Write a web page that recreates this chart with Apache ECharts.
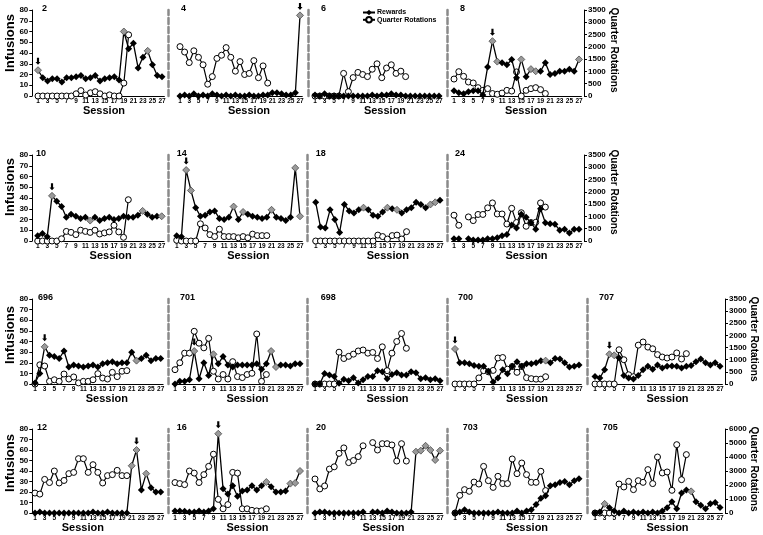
<!DOCTYPE html>
<html><head><meta charset="utf-8">
<script src="https://cdn.jsdelivr.net/npm/echarts/dist/echarts.min.js"></script>
<style>html,body{margin:0;padding:0;background:#fff}#c{width:763px;height:535px}</style>
</head><body><div id="c"></div>
<script>
// ---------- tick labels ----------
const sessions = ['1','2','3','4','5','6','7','8','9','10','11','12','13','14','15','16','17','18','19','20','21','22','23','24','25','26','27'];

// ---------- data (Rewards = infusions, left axis; Quarter Rotations = right axis) ----------
const rewards2 = [24,17,14,16,16,13,17,17,18,19,16,17,19,14,16,17,18,15,60,44,49,26,36,42,29,19,18];
const rotations2 = [0,0,0,0,0,0,0,0,90,220,40,130,175,90,0,45,0,0,525,2490];
const gray2 = [1,19,24]; const arrows2 = [1];

const rewards4 = [0,1,0,2,0,1,0,2,1,0,1,0,1,0,0,1,0,0,1,1,3,3,2,1,1,3,75];
const rotations4 = [2010,1790,1360,1840,1575,1270,480,790,1530,1660,1970,1575,1010,1400,875,920,1440,745,1225,525];
const gray4 = [27]; const arrows4 = [27];

const rewards6 = [1,0,2,0,0,0,0,0,0,0,0,0,1,0,1,1,2,1,1,0,0,0,0,0,0,0,0];
const rotations6 = [0,0,0,0,0,0,920,175,750,960,875,790,1090,1310,745,1140,1270,920,1010,790];
const gray6 = []; const arrows6 = [];

const rewards8 = [5,3,2,4,5,5,1,27,51,32,31,29,34,17,34,18,25,23,23,31,20,21,23,23,25,23,34];
const rotations8 = [690,990,800,570,530,340,230,300,100,70,120,230,200,980,0,230,300,340,260,100];
const gray8 = [9,10,15,17,18,27]; const arrows8 = [9];

const rewards10 = [5,7,4,42,37,32,22,25,23,21,22,19,22,19,21,22,20,21,23,22,22,24,28,25,22,23,23];
const rotations10 = [0,0,0,0,0,90,390,350,260,440,390,350,440,285,330,370,640,370,150,1680];
const gray10 = [4,12,23,27]; const arrows10 = [4];

const rewards14 = [5,4,66,47,31,23,24,27,28,21,20,22,32,20,27,25,23,22,21,22,29,22,21,19,22,68,23];
const rotations14 = [30,0,0,0,0,700,530,260,180,480,180,180,180,130,180,130,280,220,220,220];
const gray14 = [3,4,13,15,21,26,27]; const arrows14 = [3];

const rewards18 = [36,13,12,29,20,8,34,28,26,29,31,29,24,23,27,31,30,29,26,29,31,36,34,31,34,36,38];
const rotations18 = [0,0,0,0,0,0,0,0,0,0,0,0,0,240,180,80,220,240,80,380];
const gray18 = [11,16,18,25,26]; const arrows18 = [];

const rewards24 = [2,2,null,2,1,1,1,2,2,3,5,6,15,12,25,22,17,11,30,17,16,15.5,10,11,7.5,11,11];
const rotations24 = [1050,640,null,980,830,1080,1080,1350,1550,1100,1100,690,1330,750,1150,600,750,760,1550,1380];
const gray24 = []; const arrows24 = [];

const rewards696 = [1,10,35,27,26,24,31,16,18,17,16,17,18,16,19,20,21,19,20,20,30,22,24,27,22,24,24];
const rotations696 = [0,790,740,110,175,110,410,205,290,45,110,110,175,425,245,205,480,305,525,550];
const gray696 = [3,22]; const arrows696 = [3];

const rewards701 = [0,2.5,2.5,4,31,5,20,8,28,19,26,18,16,18,18,18,18,19,14,19,31,16,18,18,17,19,19];
const rotations701 = [590,875,1270,1270,2170,1680,1490,1880,525,205,390,205,920,305,265,390,440,2060,110,390];
const gray701 = [5,9,21,22]; const arrows701 = [5];

const rewards698 = [0,0,10,8.5,7,0.6,4.4,3,6,1,4,7,7,12.5,11.6,5,9,10.7,8.5,8.5,11.6,10.7,5,6,4,5,3];
const rotations698 = [0,0,0,0,0,1310,1050,1140,1230,1360,1400,1270,1300,1050,1530,550,1270,1750,2080,1470];
const gray698 = []; const arrows698 = [];

const rewards700 = [33,20,20,19,17.5,16.6,16.6,12,2,5.6,13.5,9.7,16.6,21,16.6,19,19,20,22,22,20,24,23.5,20,16,16.6,18];
const rotations700 = [0,0,0,0,0,250,550,500,560,1070,1090,610,720,480,720,260,220,200,200,300];
const gray700 = [1,20]; const arrows700 = [1];

const rewards707 = [7,5.6,13.5,28,27,24.5,8,5.6,4.7,8,13.5,16.6,14,18,15,16.6,17,16.6,15,16.6,17.5,21,23.5,20,18,20,16.6];
const rotations707 = [0,0,0,0,0,1410,1000,380,300,1600,1730,1520,1450,1210,1110,1070,1110,1280,1030,1250];
const gray707 = [4,5]; const arrows707 = [4];

const rewards12 = [0,1,0,0,0,0,0,0,0,0,0,0,1,0,0,1,0,0,0,0,45,60,22,37.5,24,20,20];
const rotations12 = [1425,1350,2400,2175,3000,2145,2325,2810,2900,3880,3880,2900,3450,2900,2145,2670,2740,3045,2670,2670];
const gray12 = [21,22,24]; const arrows12 = [22];

const rewards16 = [2,2,1.6,1,1,2,1,2,4,75.5,23,18,26,16,21,22,26,22,26,29.5,25,20,20,21,28,28.6,40];
const rotations16 = [2175,2100,2025,3000,2850,2175,2740,3330,4200,975,300,600,2900,2850,300,300,190,150,150,300];
const gray16 = [10,20,25,26,27]; const arrows16 = [10];

const rewards20 = [0,1,1,0,0,0,0,0,0,0,1,null,1,1,0,2,1,0,0,0,1,58.4,59.4,64,60,50.5,59.4];
const rotations20 = [2430,1720,1930,3140,3300,4260,4650,3600,3750,4030,4800,null,5030,4500,4950,4950,4860,3710,4950,3710];
const gray20 = [22,23,24,25,26,27]; const arrows20 = [];

const rewards703 = [0,1,3,1,0,0,0,0,0,1,0,0,0,2,0,2,3,8,14,16.5,26,27,29,30,27,30.8,32.7];
const rotations703 = [0,1260,1670,1550,2210,2070,3330,2310,1830,2620,2100,2100,3860,2810,3570,2740,2190,2190,2980,1600];
const gray703 = []; const arrows703 = [];

const rewards705 = [0,1,8.7,5,2,0,2,0,1,0,1,0,1,0,2,5,10.7,4,19,22,20.6,10.7,7.3,4,8.7,10,5.3];
const rotations705 = [0,0,0,0,0,2070,1860,2260,1670,2310,2190,3100,2100,4000,2860,2930,1620,4880,2380,4170];
const gray705 = [3,21]; const arrows705 = [];

// ---------- layout ----------
const FONT = '"Liberation Sans", Arial, sans-serif';
const rows = [
  {top:10,  bottom:96,  rotMax:3500, rotInt:500,  sepY:[168,308,447],        sessGap:8.5, infY:43,  qrY:50},
  {top:155, bottom:241, rotMax:3500, rotInt:500,  sepY:[168.3,307.3,447.3],  sessGap:6,   infY:187, qrY:192},
  {top:299, bottom:384, rotMax:3500, rotInt:500,  sepY:[168,307,447,587],    sessGap:6.5, infY:335, qrY:339},
  {top:429, bottom:513, rotMax:6000, rotInt:1000, sepY:[168.3,307,447.3,587],sessGap:8.5, infY:463, qrY:469}
];
const panels = [
  {name:'2',  row:0, x1:38,    x27:162,   ldx:4,   sdx:4,   r:rewards2,   q:rotations2,   g:gray2,   a:arrows2},
  {name:'4',  row:0, x1:180,   x27:300,   ldx:1,   sdx:9,   r:rewards4,   q:rotations4,   g:gray4,   a:arrows4},
  {name:'6',  row:0, x1:315,   x27:439,   ldx:6,   sdx:8,   r:rewards6,   q:rotations6,   g:gray6,   a:arrows6},
  {name:'8',  row:0, x1:454,   x27:579,   ldx:6,   sdx:9.5, r:rewards8,   q:rotations8,   g:gray8,   a:arrows8},
  {name:'10', row:1, x1:37.7,  x27:161.7, ldx:-1.7,sdx:11,  r:rewards10,  q:rotations10,  g:gray10,  a:arrows10},
  {name:'14', row:1, x1:176.7, x27:300,   ldx:0,   sdx:10,  r:rewards14,  q:rotations14,  g:gray14,  a:arrows14},
  {name:'18', row:1, x1:315.7, x27:440,   ldx:0,   sdx:10,  r:rewards18,  q:rotations18,  g:gray18,  a:arrows18},
  {name:'24', row:1, x1:454,   x27:579,   ldx:1,   sdx:10,  r:rewards24,  q:rotations24,  g:gray24,  a:arrows24},
  {name:'696',row:2, x1:35,    x27:160.7, ldx:3,   sdx:9,   r:rewards696, q:rotations696, g:gray696, a:arrows696},
  {name:'701',row:2, x1:175,   x27:300,   ldx:5,   sdx:10,  r:rewards701, q:rotations701, g:gray701, a:arrows701},
  {name:'698',row:2, x1:315,   x27:440,   ldx:5.7, sdx:10,  r:rewards698, q:rotations698, g:gray698, a:arrows698},
  {name:'700',row:2, x1:455,   x27:579,   ldx:3,   sdx:10,  r:rewards700, q:rotations700, g:gray700, a:arrows700},
  {name:'707',row:2, x1:595,   x27:720,   ldx:4,   sdx:10,  r:rewards707, q:rotations707, g:gray707, a:arrows707},
  {name:'12', row:3, x1:35,    x27:160.7, ldx:2,   sdx:-15, r:rewards12,  q:rotations12,  g:gray12,  a:arrows12},
  {name:'16', row:3, x1:175,   x27:300,   ldx:1.7, sdx:10,  r:rewards16,  q:rotations16,  g:gray16,  a:arrows16},
  {name:'20', row:3, x1:315,   x27:440,   ldx:1,   sdx:6,   r:rewards20,  q:rotations20,  g:gray20,  a:arrows20},
  {name:'703',row:3, x1:455,   x27:579,   ldx:7.7, sdx:10,  r:rewards703, q:rotations703, g:gray703, a:arrows703},
  {name:'705',row:3, x1:595,   x27:720,   ldx:7.7, sdx:10,  r:rewards705, q:rotations705, g:gray705, a:arrows705}
];

const ARROW = 'path://M2,0 L5,0 L5,6 L7,6 L3.5,10 L0,6 L2,6 Z';
const grids = [], xAxes = [], yAxes = [], series = [], titles = [];

panels.forEach((p, i) => {
  const row = rows[p.row];
  const rowPanels = panels.filter(o => o.row === p.row);
  const k = rowPanels.indexOf(p);
  const isFirst = k === 0, isLast = k === rowPanels.length - 1;
  const W = (p.x27 - p.x1) * 54 / 52;
  const left = p.x1 - W / 54;
  grids.push({left: left, top: row.top, width: W, height: row.bottom - row.top});
  titles.push({text: p.name, left: p.x1 + p.ldx, top: row.top - 6, padding: 0,
    textStyle: {fontSize: 9, fontWeight: 'bold', color: '#000', fontFamily: FONT}});
  xAxes.push({gridIndex: i, type: 'category', data: sessions, boundaryGap: true,
    axisLine: {lineStyle: {color: '#000', width: 1}}, axisTick: {show: false},
    axisLabel: {interval: 1, fontSize: 6.5, fontWeight: 'bold', color: '#000', margin: 2, fontFamily: FONT},
    name: 'Session', nameLocation: 'middle', nameGap: row.sessGap,
    nameTextStyle: {fontSize: 11, fontWeight: 'bold', color: '#000', fontFamily: FONT,
      padding: p.sdx >= 0 ? [0, 0, 0, 2 * p.sdx] : [0, -2 * p.sdx, 0, 0]}});
  // left (infusions) axis
  if (isFirst) {
    yAxes.push({gridIndex: i, type: 'value', min: 0, max: 80, interval: 10, position: 'left',
      offset: left - 32.3,
      axisLine: {show: true, lineStyle: {color: '#000', width: 1}},
      axisTick: {show: true, length: 3, lineStyle: {color: '#000'}},
      axisLabel: {fontSize: 8, fontWeight: 'bold', color: '#000', margin: 4, fontFamily: FONT},
      splitLine: {show: false}});
  } else {
    yAxes.push({gridIndex: i, type: 'value', min: 0, max: 80, interval: 10, position: 'left',
      offset: left - row.sepY[k - 1],
      axisLine: {show: true, lineStyle: {color: '#8a8a8a', width: 2.5, type: [6, 3]}},
      axisTick: {show: false}, axisLabel: {show: false}, splitLine: {show: false}});
  }
  // right (quarter rotations) axis
  const rightX = p.row < 2 ? 584 : 725;
  yAxes.push({gridIndex: i, type: 'value', min: 0, max: row.rotMax, interval: row.rotInt, position: 'right',
    show: isLast, offset: rightX - (left + W),
    axisLine: {show: true, lineStyle: {color: '#000', width: 1}},
    axisTick: {show: true, length: 3, lineStyle: {color: '#000'}},
    axisLabel: {fontSize: 8, fontWeight: 'bold', color: '#000', margin: 4, fontFamily: FONT,
      formatter: v => String(v)},
    splitLine: {show: false}});

  series.push({name: 'Rewards', type: 'line', xAxisIndex: i, yAxisIndex: 2 * i,
    data: p.r.map((v, j) => p.g.indexOf(j + 1) >= 0 && v !== null
      ? {value: v, itemStyle: {color: '#9a9a9a', borderColor: '#4a4a4a', borderWidth: 0.8}} : v),
    symbol: 'diamond', symbolSize: 7, showAllSymbol: true, connectNulls: false,
    itemStyle: {color: '#000'}, lineStyle: {color: '#000', width: 1.3}, z: 3,
    markPoint: {silent: true, symbol: ARROW, symbolSize: [5, 7], symbolOffset: [0, -9],
      itemStyle: {color: '#000'}, label: {show: false},
      data: p.a.map(s => ({coord: [sessions[s - 1], p.r[s - 1]]}))}});
  series.push({name: 'Quarter Rotations', type: 'line', xAxisIndex: i, yAxisIndex: 2 * i + 1,
    data: p.q, symbol: 'circle', symbolSize: 6, showAllSymbol: true, connectNulls: false,
    itemStyle: {color: '#fff', borderColor: '#000', borderWidth: 1},
    lineStyle: {color: '#000', width: 1.2}, z: 2});
});

const graphics = [];
rows.forEach((row, ri) => {
  graphics.push({type: 'text', x: 10, y: row.infY, rotation: Math.PI / 2,
    style: {text: 'Infusions', font: 'bold 13px ' + FONT, fill: '#000', textAlign: 'center', textVerticalAlign: 'middle'}});
  graphics.push({type: 'text', x: ri < 2 ? 614 : 754, y: row.qrY, rotation: -Math.PI / 2,
    style: {text: 'Quarter Rotations', font: 'bold 10px ' + FONT, fill: '#000', textAlign: 'center', textVerticalAlign: 'middle'}});
});

const chart = echarts.init(document.getElementById('c'), null, {renderer: 'canvas'});
chart.setOption({
  animation: false,
  backgroundColor: '#fff',
  title: titles,
  legend: {data: ['Rewards', 'Quarter Rotations'], orient: 'vertical', left: 362, top: 9,
    itemWidth: 12, itemHeight: 7, itemGap: 0, padding: 0,
    textStyle: {fontSize: 7, fontWeight: 'bold', color: '#000', fontFamily: FONT, padding: [0, 0, 0, -3]}},
  grid: grids, xAxis: xAxes, yAxis: yAxes, series: series, graphic: graphics
});
</script></body></html>
